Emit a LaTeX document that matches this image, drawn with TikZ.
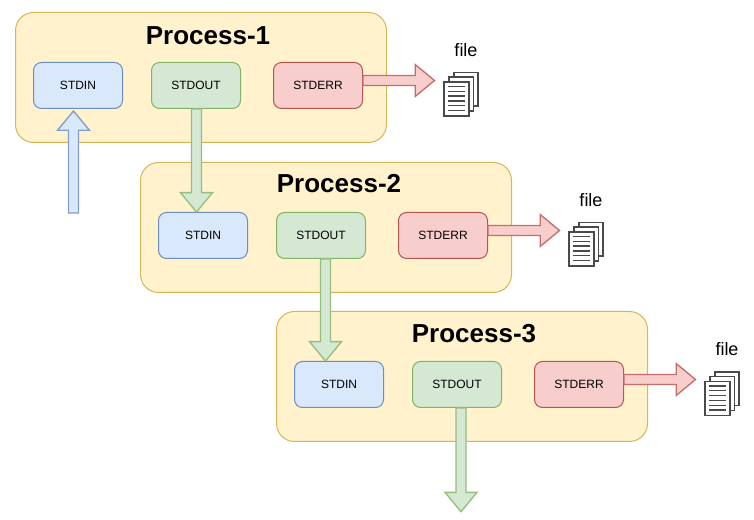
\documentclass[tikz,border=0pt]{standalone}
\usepackage{fontspec}
\setmainfont{Liberation Sans}
\usetikzlibrary{calc}
\definecolor{procfill}{HTML}{FFF2CC}\definecolor{procline}{HTML}{D6B656}
\definecolor{infill}{HTML}{DAE8FC}\definecolor{inline}{HTML}{6C8EBF}
\definecolor{outfill}{HTML}{D5E8D4}\definecolor{outline}{HTML}{82B366}
\definecolor{errfill}{HTML}{F8CECC}\definecolor{errline}{HTML}{B85450}
\definecolor{iconline}{HTML}{4A4A4A}
\tikzset{
  x=.75pt,y=-.75pt,
  procbox/.style={draw=procline,fill=procfill,rounded corners=13.5pt,minimum width=278.25pt,minimum height=97.5pt,inner sep=0pt,line width=.75pt},
  portbox/.style={rounded corners=6pt,minimum width=66.75pt,minimum height=34.5pt,inner sep=0pt,line width=.75pt,font=\fontsize{9}{11}\selectfont},
  inbox/.style={portbox,draw=inline,fill=infill},
  outbox/.style={portbox,draw=outline,fill=outfill},
  errbox/.style={portbox,draw=errline,fill=errfill},
  titletext/.style={font=\fontsize{19.5}{23}\selectfont\bfseries,inner sep=0pt},
  filetext/.style={font=\fontsize{13.5}{16}\selectfont,inner sep=0pt},
  inarrow/.style={draw=inline!85!white,fill=infill,line width=1pt},
  outarrow/.style={draw=outline!85!white,fill=outfill,line width=1pt},
  errarrow/.style={draw=errline!85!white,fill=errfill,line width=1pt},
  page/.style={draw=iconline,fill=white,line width=1.1pt},
  pageline/.style={draw=iconline,line width=1pt},
}
% block arrow from #2 to #3: half shaft 3.75pt, half head 12pt, head length 14.5pt
\newcommand{\blockarrow}[3]{%
  \draw[#1] ($(#2)!3.75pt!90:(#3)$)
    -- ($($(#3)!14.5pt!(#2)$)!3.75pt!-90:(#2)$)
    -- ($($(#3)!14.5pt!(#2)$)!12pt!-90:(#2)$)
    -- (#3)
    -- ($($(#3)!14.5pt!(#2)$)!12pt!90:(#2)$)
    -- ($($(#3)!14.5pt!(#2)$)!3.75pt!90:(#2)$)
    -- ($(#2)!3.75pt!-90:(#3)$) -- cycle;}
% process n, offset dx dy, title position, file label position, icon offset
\newcommand{\processgroup}[9]{%
  \node[procbox] (proc#1) at (201+#2,77.5+#3) {};
  \node[titletext] (title#1) at (#4,#5) {Process-#1};
  \node[inbox] (in#1) at (78+#2,85.5+#3) {STDIN};
  \node[outbox] (out#1) at (196+#2,85.5+#3) {STDOUT};
  \node[errbox] (err#1) at (318+#2,85.5+#3) {STDERR};
  \node[filetext] (file#1) at (#6,#7) {file};
  \begin{scope}[shift={(#8,#9)}]
    \draw[page] (454,72.5) rectangle (478,106);
    \draw[page] (449,77) rectangle (473.5,111);
    \draw[page] (444,82) rectangle (469,116);
    \foreach \yy in {86.5,91.3,96.1,100.9,105.7,110.5}
      \draw[pageline] (447.5,\yy) -- (465,\yy);
    \coordinate (icon#1) at (434.5,80);
  \end{scope}
  \coordinate (errstart#1) at ([yshift=3.75pt]err#1.east);
  \blockarrow{errarrow}{errstart#1}{errstart#1 -| icon#1}
}
\begin{document}
\begin{tikzpicture}
\useasboundingbox (0,0) rectangle (754,520);
\processgroup{1}{0}{0}{208}{35.5}{466}{50}{0}{0}
\processgroup{2}{125}{150}{339}{183.5}{591}{200}{125}{150}
\processgroup{3}{261}{299}{474}{333.5}{727}{349}{261}{299.5}
\coordinate (stdinsource) at (73.5,213);
\coordinate (stdintip) at (73.5,111);
\blockarrow{inarrow}{stdinsource}{stdintip}
\coordinate (a1) at ([xshift=.375pt]out1.south);
\coordinate (a2) at ([xshift=3.375pt]out2.south);
\coordinate (a3) at ([xshift=3pt]out3.south);
\coordinate (endout) at (461,511.7);
\blockarrow{outarrow}{a1}{a1 |- in2.north}
\blockarrow{outarrow}{a2}{a2 |- in3.north}
\blockarrow{outarrow}{a3}{endout}
\end{tikzpicture}
\end{document}
